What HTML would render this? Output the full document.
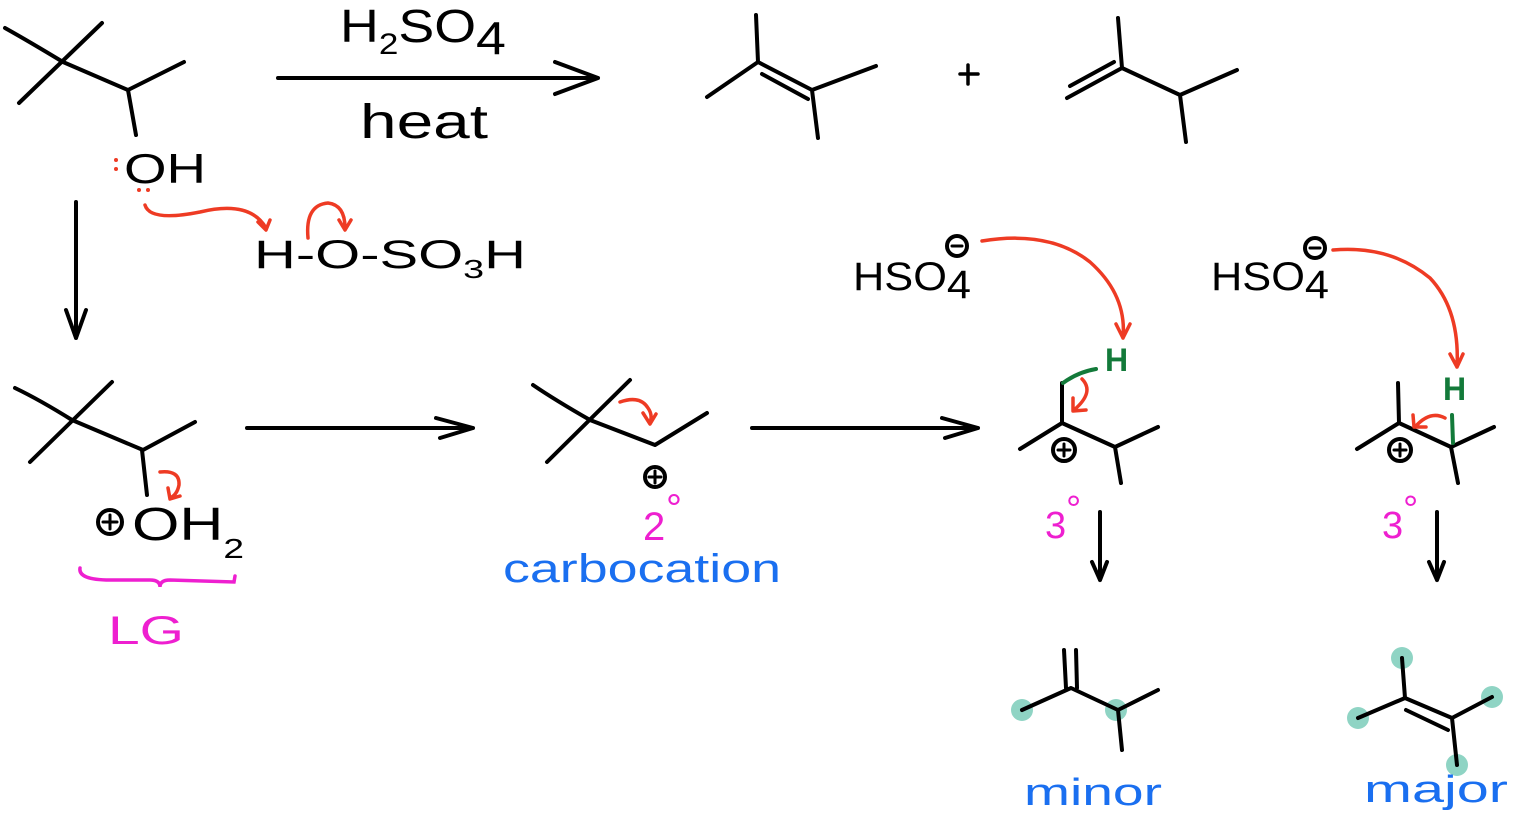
<!DOCTYPE html>
<html><head><meta charset="utf-8"><style>
html,body{margin:0;padding:0;background:#fff;}
svg{display:block;}
text{font-family:"Liberation Sans",sans-serif;}
</style></head><body>
<svg width="1513" height="828" viewBox="0 0 1513 828" xmlns="http://www.w3.org/2000/svg">
<g fill="none" stroke="#000" stroke-width="4" stroke-linecap="round" stroke-linejoin="round">
<path d="M5,28 Q30,42 63,62 L128,90 L184,62"/>
<path d="M102,23 L19,103"/>
<path d="M128,90 L136,135"/>
<path d="M278,78 L598,78 M555,62 L598,78 L555,94"/>
<path d="M756,15 L758,62 M707,97 L758,62 L812,90 L876,66 M812,90 L818,138 M762,74 L808,99"/>
<path d="M960,74 L978,74 M968,65 L968,84" stroke-width="3.5"/>
<path d="M1118,18 L1122,68 M1067,98 L1122,68 L1180,95 L1237,70 M1180,95 L1186,142 M1070,86 L1114,62"/>
<path d="M76,202 L76,338 M66,310 L76,338 L86,310"/>
<path d="M15,388 Q40,400 72,420 L143,450 L195,422"/>
<path d="M112,382 L30,462"/>
<path d="M142,450 L147,495"/>
<path d="M247,428 L473,428 M436,418 L473,428 L440,438"/>
<path d="M533,385 Q555,400 590,420 L655,445 L707,413"/>
<path d="M630,380 L547,462"/>
<path d="M752,428 L978,428 M942,418 L978,428 L945,438"/>
<path d="M1062,383 L1062,423 M1020,449 L1062,423 L1115,447 L1158,427 M1115,447 L1121,483"/>
<path d="M1398,383 L1399,423 M1357,449 L1399,423 L1451,447 L1494,427 M1451,447 L1458,483"/>
<path d="M1100,512 L1100,580 M1092,562 L1100,580 L1107,562"/>
<path d="M1437,512 L1437,580 M1429,562 L1437,580 L1444,562"/>
<circle cx="110" cy="522" r="12"/><path d="M110,515 L110,529 M103,522 L117,522" stroke-width="3"/>
<circle cx="655" cy="477" r="10"/><path d="M655,471 L655,483 M649,477 L661,477" stroke-width="3"/>
<circle cx="1064" cy="450" r="11"/><path d="M1064,444 L1064,456 M1058,450 L1070,450" stroke-width="3"/>
<circle cx="1400" cy="450" r="11"/><path d="M1400,444 L1400,456 M1394,450 L1406,450" stroke-width="3"/>
<circle cx="957" cy="246" r="10"/><path d="M952,246 L962,246" stroke-width="3"/>
<circle cx="1315" cy="248" r="10"/><path d="M1310,248 L1320,248" stroke-width="3"/>
</g>
<g fill="#8fd4c4">
<circle cx="1022" cy="710" r="11"/><circle cx="1116" cy="710" r="11"/>
<circle cx="1402" cy="658" r="11"/><circle cx="1358" cy="718" r="11"/>
<circle cx="1492" cy="697" r="11"/><circle cx="1457" cy="765" r="11"/>
</g>
<g fill="none" stroke="#000" stroke-width="4" stroke-linecap="round" stroke-linejoin="round">
<path d="M1064,650 L1066,688 M1076,650 L1077,688 M1022,710 L1071,688 L1118,710 L1158,690 M1118,710 L1122,750"/>
<path d="M1402,658 L1405,698 M1358,718 L1405,698 L1452,718 L1492,697 M1452,718 L1457,765 M1406,710 L1448,730"/>
</g>
<g fill="none" stroke="#137a3a" stroke-width="4" stroke-linecap="round">
<path d="M1063,383 Q1078,372 1096,369"/>
<path d="M1452,415 L1453,443"/>
</g>
<g fill="none" stroke="#ee3b24" stroke-width="3.5" stroke-linecap="round" stroke-linejoin="round">
<path d="M145,205 Q150,222 200,212 Q250,200 266,228 M258,222 L266,230 L270,220"/>
<path d="M308,238 Q305,205 328,203 Q345,205 345,228 M339,220 L345,230 L351,220"/>
<path d="M160,472 Q180,470 179,485 Q177,495 170,498 M168,488 L170,499 L180,496"/>
<path d="M620,402 Q640,395 648,408 Q653,415 650,423 M643,413 L650,424 L656,414"/>
<path d="M982,241 Q1050,230 1090,262 Q1127,295 1123,338 M1116,324 L1123,338 L1130,324"/>
<path d="M1333,250 Q1390,245 1430,278 Q1460,310 1457,367 M1450,354 L1457,367 L1463,354"/>
<path d="M1082,379 Q1095,392 1074,410 M1073,398 L1073,411 L1086,410"/>
<path d="M1445,418 Q1430,410 1415,427 M1413,415 L1414,427 L1426,427"/>
</g>
<g fill="#ee3b24"><circle cx="116" cy="160" r="2"/><circle cx="116" cy="169" r="2"/><circle cx="139" cy="190" r="2"/><circle cx="148" cy="190" r="2"/></g>
<path d="M80,568 Q78,580 110,580 L150,580 Q160,580 160,587 Q160,580 170,580 L234,582 L235,576" fill="none" stroke="#ee1fd0" stroke-width="3.5" stroke-linecap="round"/>
<g fill="#000">
<text x="340" y="42" font-size="46" textLength="166" lengthAdjust="spacingAndGlyphs">H<tspan font-size="30" dy="12">2</tspan><tspan dy="-12">SO</tspan><tspan dy="12">4</tspan></text>
<text x="360" y="138" font-size="48" textLength="128" lengthAdjust="spacingAndGlyphs">heat</text>
<text x="124" y="183" font-size="42" textLength="82" lengthAdjust="spacingAndGlyphs">OH</text>
<text x="254" y="268" font-size="40" textLength="272" lengthAdjust="spacingAndGlyphs">H-O-SO<tspan font-size="26" dy="10">3</tspan><tspan dy="-10">H</tspan></text>
<text x="132" y="540" font-size="46" textLength="112" lengthAdjust="spacingAndGlyphs">OH<tspan font-size="28" dy="18">2</tspan></text>
<text x="853" y="290" font-size="40" textLength="118" lengthAdjust="spacingAndGlyphs">HSO<tspan dy="8">4</tspan></text>
<text x="1211" y="290" font-size="40" textLength="118" lengthAdjust="spacingAndGlyphs">HSO<tspan dy="8">4</tspan></text>
</g>
<g fill="#137a3a"><text x="1105" y="371" font-size="32" font-weight="bold">H</text><text x="1443" y="400" font-size="32" font-weight="bold">H</text></g>
<g fill="#ee1fd0">
<text x="108" y="644" font-size="40" textLength="76" lengthAdjust="spacingAndGlyphs">LG</text>
<text x="643" y="540" font-size="40">2</text><text x="666" y="522" font-size="40">°</text>
<text x="1045" y="538" font-size="38">3</text><text x="1066" y="522" font-size="38">°</text>
<text x="1382" y="538" font-size="38">3</text><text x="1403" y="522" font-size="38">°</text>
</g>
<g fill="#1a6ff0">
<text x="503" y="582" font-size="40" textLength="278" lengthAdjust="spacingAndGlyphs">carbocation</text>
<text x="1024" y="805" font-size="38" textLength="138" lengthAdjust="spacingAndGlyphs">minor</text>
<text x="1364" y="802" font-size="38" textLength="144" lengthAdjust="spacingAndGlyphs">major</text>
</g>
</svg>
</body></html>
